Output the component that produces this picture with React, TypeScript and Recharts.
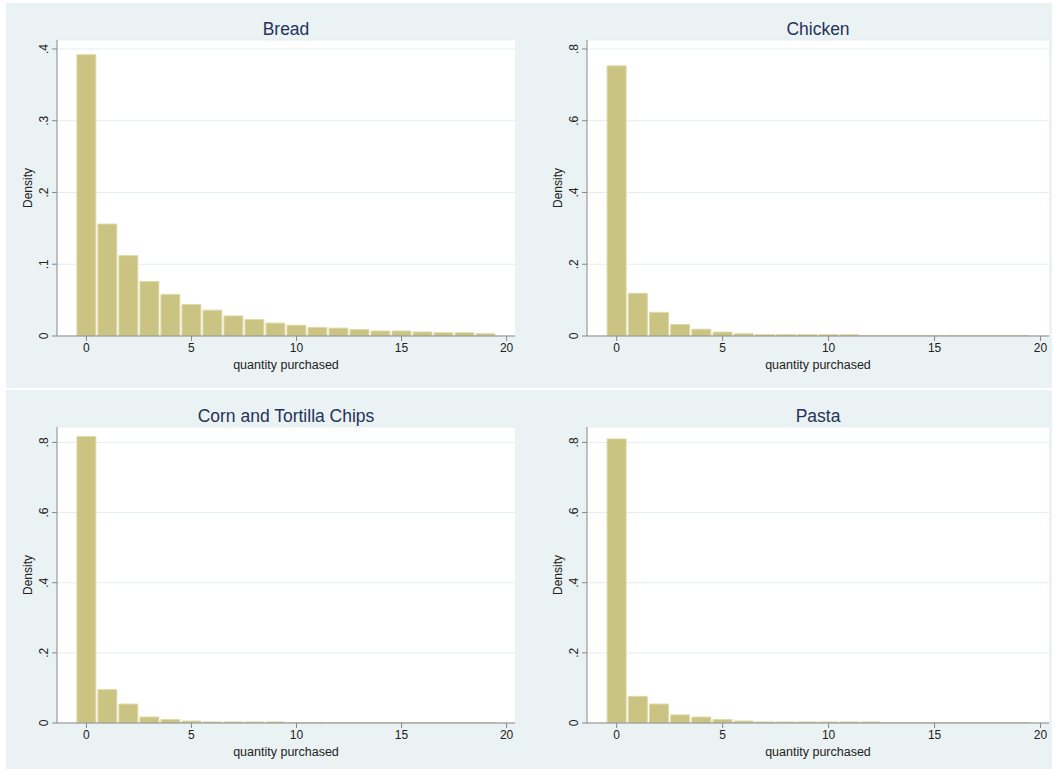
import { BarChart, Bar, XAxis, YAxis, CartesianGrid } from "recharts"

// bin centres (quantity purchased)
const bins = [0, 1, 2, 3, 4, 5, 6, 7, 8, 9, 10, 11, 12, 13, 14, 15, 16, 17, 18, 19]

const breadDensity = [0.392, 0.156, 0.112, 0.076, 0.058, 0.044, 0.036, 0.028, 0.023, 0.018, 0.015, 0.012, 0.011, 0.009, 0.007, 0.007, 0.0056, 0.0046, 0.0046, 0.0032]
const chickenDensity = [0.753, 0.119, 0.066, 0.032, 0.019, 0.011, 0.0065, 0.004, 0.004, 0.004, 0.004, 0.0035, 0.001, 0.001, 0.001, 0.001, 0.001, 0.001, 0.001, 0.001]
const chipsDensity = [0.817, 0.095, 0.054, 0.017, 0.010, 0.0057, 0.003, 0.003, 0.003, 0.003, 0.001, 0.001, 0.001, 0.001, 0.001, 0.001, 0.001, 0.001, 0.001, 0.001]
const pastaDensity = [0.81, 0.076, 0.054, 0.023, 0.017, 0.010, 0.0057, 0.003, 0.003, 0.003, 0.003, 0.003, 0.003, 0.001, 0.001, 0.001, 0.001, 0.001, 0.001, 0.001]

const xTicks = [0, 5, 10, 15, 20]
const breadTicks = [0, 0.1, 0.2, 0.3, 0.4]
const shareTicks = [0, 0.2, 0.4, 0.6, 0.8]

const BG = "#eaf2f3"
const FONT = "'Liberation Sans', Arial, Helvetica, sans-serif"

const fmt = (v: number) => (v === 0 ? "0" : String(Number(v.toFixed(2))).replace(/^0/, ""))

const YTick = (props: any) => {
    const { x, y, payload } = props
    return (
        <text x={x} y={y} transform={`rotate(-90 ${x} ${y})`} textAnchor="middle" fontSize={12} fill="#222" fontFamily={FONT}>
            {fmt(payload.value)}
        </text>
    )
}

interface PanelProps {
    left: number
    top: number
    width: number
    height: number
    axisW: number
    right: number
    bottom: number
    title: string
    values: number[]
    yMax: number
    yTicks: number[]
}

function Panel({ left, top, width, height, axisW, right, bottom, title, values, yMax, yTicks }: PanelProps) {
    const data = bins.map((q, i) => ({ q, d: values[i] }))
    const plotW = width - axisW - right
    const xMin = -1.4
    const xMax = 20.4
    const barSize = plotW / (xMax - xMin)

    return (
        <div style={{ position: "absolute", left, top, width, height, background: BG }}>
            <div
                style={{
                    position: "absolute",
                    left: axisW,
                    width: plotW,
                    top: 16,
                    lineHeight: "20px",
                    textAlign: "center",
                    fontSize: 17.5,
                    color: "#26325a",
                    fontFamily: FONT,
                }}
            >
                {title}
            </div>
            <BarChart width={width} height={height} data={data} margin={{ top: 37, right, left: 0, bottom }} barGap={0}>
                <CartesianGrid vertical={false} stroke="#e4eef0" fill="#ffffff" />
                <XAxis
                    dataKey="q"
                    type="number"
                    domain={[xMin, xMax]}
                    ticks={xTicks}
                    allowDataOverflow
                    height={40}
                    tickSize={5}
                    tickMargin={2}
                    stroke="#888"
                    tick={{ fontSize: 12, fill: "#222", fontFamily: FONT }}
                    label={{ value: "quantity purchased", position: "insideBottom", offset: 7, fontSize: 12.5, fill: "#222", fontFamily: FONT }}
                />
                <YAxis
                    type="number"
                    domain={[0, yMax]}
                    ticks={yTicks}
                    allowDataOverflow
                    width={axisW}
                    tickSize={5}
                    tickMargin={4}
                    stroke="#888"
                    tick={<YTick />}
                    label={(p: any) => {
                        const vb = p.viewBox
                        const cx = vb.x + vb.width - 25
                        const cy = vb.y + vb.height / 2
                        return (
                            <text x={cx} y={cy} transform={`rotate(-90 ${cx} ${cy})`} textAnchor="middle" fontSize={12} fill="#222" fontFamily={FONT}>
                                Density
                            </text>
                        )
                    }}
                />
                <Bar dataKey="d" fill="#cac382" stroke="#dedaa8" strokeWidth={1} barSize={barSize} isAnimationActive={false} />
            </BarChart>
        </div>
    )
}

export default function App() {
    return (
        <div style={{ position: "absolute", left: 0, top: 0, width: 1055, height: 773, background: "#fff" }}>
            <Panel left={6} top={3} width={522} height={385} axisW={51} right={13} bottom={12} title="Bread" values={breadDensity} yMax={0.4125} yTicks={breadTicks} />
            <Panel left={528} top={3} width={524} height={385} axisW={59} right={3} bottom={12} title="Chicken" values={chickenDensity} yMax={0.825} yTicks={shareTicks} />
            <Panel left={6} top={390} width={522} height={379} axisW={51} right={13} bottom={6} title="Corn and Tortilla Chips" values={chipsDensity} yMax={0.844} yTicks={shareTicks} />
            <Panel left={528} top={390} width={524} height={379} axisW={59} right={3} bottom={6} title="Pasta" values={pastaDensity} yMax={0.844} yTicks={shareTicks} />
        </div>
    )
}
